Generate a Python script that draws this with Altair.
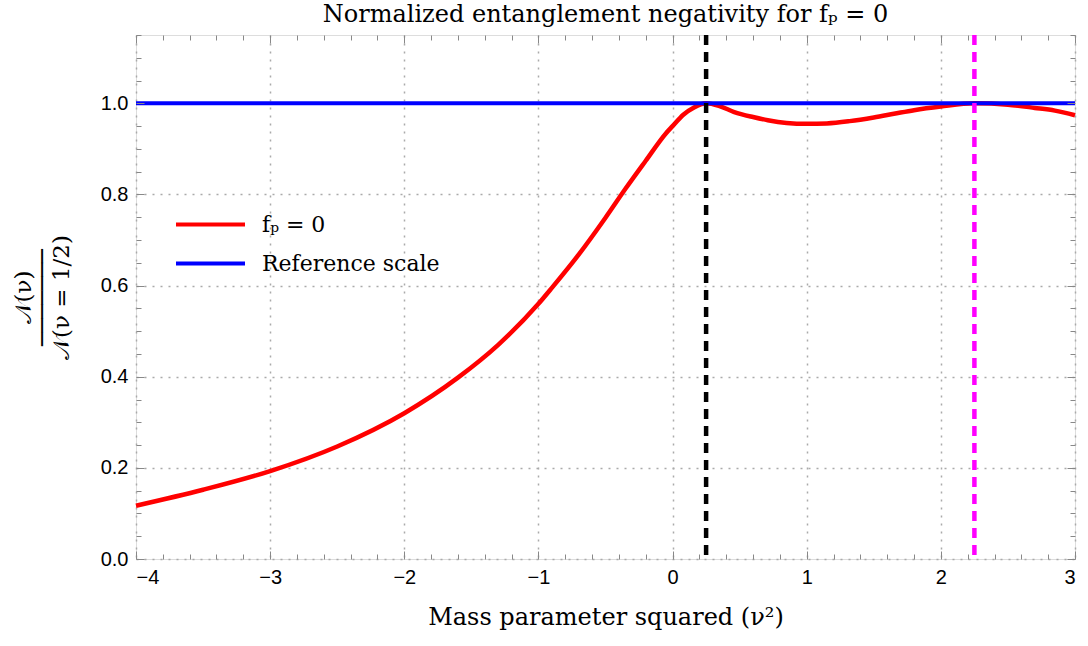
import altair as alt
import numpy as np
import pandas as pd

# ---- data ----
nu2 = [-4.0, -3.5, -3.0, -2.5, -2.0, -1.6, -1.3, -1.0, -0.9, -0.7, -0.5, -0.35, -0.2,
       -0.05, 0.0, 0.08, 0.16, 0.25, 0.35, 0.46, 0.6, 0.71, 0.85, 1.0, 1.15, 1.32,
       1.5, 1.65, 1.8, 2.0, 2.25, 2.5, 2.7, 2.85, 3.0]
neg = [0.117, 0.152, 0.193, 0.247, 0.320, 0.398, 0.470, 0.560, 0.595, 0.668, 0.749,
       0.813, 0.874, 0.934, 0.950, 0.975, 0.991, 1.0, 0.994, 0.981, 0.970, 0.963,
       0.957, 0.955, 0.956, 0.961, 0.969, 0.977, 0.985, 0.993, 1.0, 0.997, 0.990,
       0.984, 0.974]
ref_x = [-4.0, 3.0]
ref_y = [1.0, 1.0]
marker_x = [0.25, 2.25]
marker_colors = ["#000000", "#ff00ff"]
series_names = ["fₚ = 0", "Reference scale"]
series_colors = ["#ff0000", "#0000ff"]
x_tick_labels = [-4, -3, -2, -1, 0, 1, 2, 3]
y_tick_labels = [0.0, 0.2, 0.4, 0.6, 0.8, 1.0]

W, H = 939, 524
SERIF = "DejaVu Serif"
SANS = "Liberation Sans"

curve_df = pd.DataFrame({"x": nu2, "y": neg, "series": series_names[0]})
ref_df = pd.DataFrame({"x": ref_x, "y": ref_y, "series": series_names[1]})

xs = alt.Scale(domain=[-4, 3], nice=False, zero=False)
ys = alt.Scale(domain=[0, 1.15], nice=False, zero=False)
cs = alt.Scale(domain=series_names, range=series_colors)

x_minor = [round(v, 4) for v in np.arange(-4, 3.0001, 0.2)]
y_minor = [round(v, 4) for v in np.arange(0, 1.15001, 0.05)]
tick_x_size = {"condition": {"test": "abs(datum.value - round(datum.value)) < 0.001", "value": 8}, "value": 5}
tick_y_size = {"condition": {"test": "abs(datum.value*5 - round(datum.value*5)) < 0.001", "value": 8}, "value": 5}


def tick_axis(orient, offset, values, size):
    return alt.Axis(orient=orient, offset=offset, values=values, labels=False,
                    domain=False, grid=False, ticks=True, tickSize=size,
                    tickColor="#888888", tickWidth=1, title=None, zindex=1)


legend = alt.Legend(orient="none", legendX=38, legendY=170, title=None,
                    symbolType="stroke", symbolSize=4761, symbolStrokeWidth=4,
                    labelFont=SERIF, labelFontSize=22, labelOffset=15,
                    labelLimit=500, clipHeight=39, padding=0, rowPadding=0,
                    labelColor="black")

x_main = alt.Axis(orient="bottom", values=x_tick_labels, format="d", grid=True,
                  gridDash=[2, 6], gridColor="#aaaaaa", gridWidth=1.5, ticks=False,
                  domain=False, labelFont=SANS, labelFontSize=20, labelPadding=8,
                  labelColor="black",
                  title="Mass parameter squared (ν²)", titleFont=SERIF,
                  titleFontSize=24, titleFontWeight="normal", titlePadding=18,
                  titleColor="black")
y_main = alt.Axis(orient="left", values=y_tick_labels, format=".1f", grid=True,
                  gridDash=[2, 6], gridColor="#aaaaaa", gridWidth=1.5, ticks=False,
                  domain=False, labelFont=SANS, labelFontSize=20, labelPadding=8,
                  labelColor="black",
                  title=["𝒩(ν)", "───────", "𝒩(ν = 1/2)"], titleFont=SERIF,
                  titleFontSize=23, titleLineHeight=19, titleFontWeight="normal",
                  titlePadding=27, titleColor="black")

curve = alt.Chart(curve_df).mark_line(strokeWidth=4.5, interpolate="monotone").encode(
    x=alt.X("x:Q", scale=xs, axis=x_main),
    y=alt.Y("y:Q", scale=ys, axis=y_main),
    color=alt.Color("series:N", scale=cs, legend=legend),
)

ref = alt.Chart(ref_df).mark_line(strokeWidth=4).encode(
    x=alt.X("x:Q", scale=xs, axis=tick_axis("top", -H, x_minor, tick_x_size)),
    y=alt.Y("y:Q", scale=ys, axis=tick_axis("right", -W, y_minor, tick_y_size)),
    color=alt.Color("series:N", scale=cs, legend=legend),
)

ghost = alt.Chart(ref_df).mark_line(opacity=0).encode(
    x=alt.X("x:Q", scale=xs, axis=tick_axis("bottom", -H, x_minor, tick_x_size)),
    y=alt.Y("y:Q", scale=ys, axis=tick_axis("left", -W, y_minor, tick_y_size)),
)

markers = []
for mx, mc in zip(marker_x, marker_colors):
    markers.append(
        alt.Chart(pd.DataFrame({"x": [mx]})).mark_rule(
            color=mc, strokeWidth=4.5, strokeDash=[10, 7]
        ).encode(x=alt.X("x:Q", scale=xs, axis=None))
    )

chart = alt.layer(curve, ref, ghost, *markers).resolve_axis(
    x="independent", y="independent"
).properties(
    width=W, height=H,
    title=alt.TitleParams(text="Normalized entanglement negativity for fₚ = 0",
                          font=SERIF, fontSize=24, fontWeight="normal",
                          anchor="middle", offset=6, color="black"),
    autosize=alt.AutoSizeParams(type="none"),
    padding={"left": 136, "top": 35, "right": 13, "bottom": 87},
).configure_view(stroke="#888888", strokeWidth=1.3).configure(background="white")

chart.save("out.html", embed_options={"renderer": "svg", "actions": False})
